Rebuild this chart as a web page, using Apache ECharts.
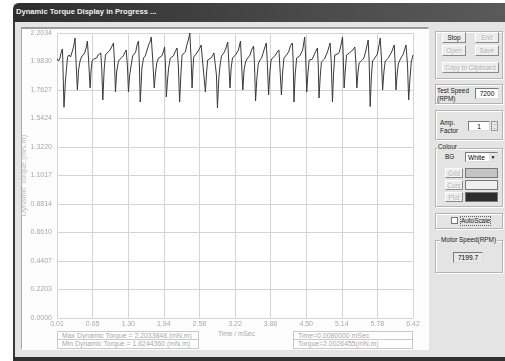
<!DOCTYPE html>
<html><head><meta charset="utf-8">
<script src="https://cdn.jsdelivr.net/npm/echarts@6/dist/echarts.min.js"></script>
<style>
html,body{margin:0;padding:0;width:505px;height:361px;overflow:hidden;background:#fff;font-family:"Liberation Sans",Arial,sans-serif;}
.a{position:absolute;box-sizing:border-box;}
.btn{position:absolute;box-sizing:border-box;background:#ececec;border:1px solid #fff;border-right-color:#8a8a8a;border-bottom-color:#8a8a8a;font-size:6.3px;color:#b0b0b0;text-align:center;line-height:9px;text-shadow:1px 1px 0 #fff;white-space:nowrap;overflow:hidden;}
.grp{position:absolute;box-sizing:border-box;border:1px solid #b4b4b4;box-shadow:1px 1px 0 #fff inset,1px 1px 0 #fff;}
.lbl{position:absolute;font-size:6.4px;color:#222;white-space:nowrap;line-height:7.5px;}
.edit{position:absolute;box-sizing:border-box;background:#fff;border:1px solid #7a7a7a;border-right-color:#ddd;border-bottom-color:#ddd;font-size:6.6px;color:#000;text-align:center;line-height:9px;white-space:nowrap;}
.box{position:absolute;box-sizing:border-box;border:1px solid #c8c8c8;font-size:6.9px;color:#a8a8a8;padding-left:4px;line-height:7px;white-space:nowrap;background:#fff;overflow:hidden;}
</style></head><body>
<div class="a" style="left:13px;top:3px;width:492px;height:358px;background:#e4e4e4;"></div>
<div class="a" style="left:13px;top:3px;width:492px;height:19px;background:linear-gradient(to right,#2e2e2e,#4a4a4a 60%,#5a5a5a);border-radius:6px 0 0 0;"></div>
<div class="a" style="left:16px;top:7px;font-size:7.6px;font-weight:bold;color:#f0f0f0;white-space:nowrap;">Dynamic Torque Display in Progress ...</div>
<div class="a" style="left:13px;top:22px;width:2px;height:339px;background:#3a3a3a;"></div>
<div class="a" style="left:13px;top:357px;width:492px;height:4px;background:#303030;"></div>
<div class="a" style="left:21px;top:27px;width:408px;height:323px;background:#fdfdfd;border-top:2px solid #9c9c9c;border-left:1px solid #a8a8a8;border-right:1px solid #fff;border-bottom:1px solid #fff;"></div>
<div class="box" style="left:57px;top:331px;width:142px;height:9px;">Max Dynamic Torque = 2.2033848 (mN.m)</div>
<div class="box" style="left:57px;top:339px;width:142px;height:10px;">Min Dynamic Torque = 1.6244360 (mN.m)</div>
<div class="a" style="left:218px;top:330px;font-size:6.6px;color:#a8a8a8;white-space:nowrap;">Time / mSec</div>
<div class="box" style="left:293px;top:331px;width:120px;height:9px;">Time=0.0080000 mSec</div>
<div class="box" style="left:293px;top:339px;width:120px;height:10px;">Torque=2.0026455(mN.m)</div>

<div class="grp" style="left:435px;top:31px;width:68px;height:48px;"></div>
<div class="btn" style="left:442px;top:32px;width:24px;height:11px;color:#111;text-shadow:none;">Stop</div>
<div class="btn" style="left:475px;top:32px;width:24px;height:11px;">End</div>
<div class="btn" style="left:442px;top:45px;width:24px;height:11px;">Open</div>
<div class="btn" style="left:475px;top:45px;width:24px;height:11px;">Save</div>
<div class="btn" style="left:442px;top:62px;width:57px;height:11px;">Copy to Clipboard</div>

<div class="grp" style="left:435px;top:84px;width:68px;height:20px;"></div>
<div class="lbl" style="left:437px;top:87px;">Test Speed<br>(RPM)</div>
<div class="edit" style="left:475px;top:88px;width:24px;height:11px;">7200</div>

<div class="grp" style="left:435px;top:110px;width:68px;height:30px;"></div>
<div class="lbl" style="left:440px;top:119px;">Amp.<br>Factor</div>
<div class="edit" style="left:468px;top:121px;width:22px;height:10px;">1</div>
<div class="a" style="left:491px;top:121px;width:7px;height:10px;border:1px solid #999;background:#e8e8e8;font-size:5px;line-height:4px;text-align:center;color:#333;">-<br>-</div>

<div class="grp" style="left:435px;top:148px;width:68px;height:59px;"></div>
<div class="lbl" style="left:437px;top:143px;background:#e4e4e4;padding:0 1px;">Colour</div>
<div class="lbl" style="left:445px;top:153px;">BG</div>
<div class="edit" style="left:465px;top:152px;width:33px;height:10px;text-align:left;padding-left:2px;">White<span style="position:absolute;right:0;top:0;width:8px;height:8px;background:#e4e4e4;font-size:5px;text-align:center;">&#9660;</span></div>
<div class="btn" style="left:445px;top:168px;width:18px;height:10px;">Grid</div>
<div class="btn" style="left:445px;top:180px;width:18px;height:10px;">Curs</div>
<div class="btn" style="left:445px;top:192px;width:18px;height:10px;">Plot</div>
<div class="a" style="left:465px;top:168px;width:33px;height:10px;background:#c4c4c4;border:1px solid #777;"></div>
<div class="a" style="left:465px;top:180px;width:33px;height:10px;background:#efefef;border:1px solid #777;"></div>
<div class="a" style="left:465px;top:192px;width:33px;height:10px;background:#2e2e2e;border:1px solid #777;"></div>

<div class="grp" style="left:435px;top:213px;width:68px;height:16px;"></div>
<div class="a" style="left:451px;top:217px;width:7px;height:7px;background:#fff;border:1px solid #777;"></div>
<div class="lbl" style="left:461px;top:217px;outline:1px dotted #666;">AutoScale</div>

<div class="grp" style="left:435px;top:240px;width:68px;height:33px;"></div>
<div class="lbl" style="left:440px;top:236px;background:#e4e4e4;padding:0 1px;">Motor Speed(RPM)</div>
<div class="edit" style="left:453px;top:252px;width:30px;height:11px;background:#e8e8e8;">7199.7</div>

<div id="chart" class="a" style="left:0;top:0;width:505px;height:361px;"></div>
<script>
// x tick labels (ms) and axis extents
var xTickLabels = ['0.01','0.65','1.30','1.94','2.58','3.22','3.86','4.50','5.14','5.78','6.42'];
var yMax = 2.2033848;
var yStep = 0.22033848;
// sampled time (ms)
var timeMs = [
0.010,0.037,0.064,0.091,0.109,
0.136,0.163,0.200,0.227,0.254,0.281,0.308,0.335,0.353,
0.377,0.398,0.425,0.452,0.479,0.507,0.534,0.557,0.579,
0.606,0.624,0.642,0.669,0.696,0.723,0.750,0.777,0.799,0.817,
0.835,0.859,0.882,0.913,0.940,0.967,0.994,1.027,1.045,
1.063,1.084,1.117,1.148,1.175,1.202,1.229,1.256,1.278,
1.297,1.319,1.346,1.373,1.400,1.427,1.455,1.478,1.494,
1.509,1.539,1.568,1.599,1.626,1.659,1.684,1.707,1.734,
1.761,1.785,1.810,1.839,1.870,1.897,1.924,1.947,1.964,
1.978,2.000,2.020,2.050,2.077,2.105,2.135,2.171,2.195,
2.218,2.240,2.262,2.291,2.321,2.348,2.375,2.402,2.424,
2.442,2.457,2.471,2.502,2.529,2.556,2.583,2.605,2.646,
2.682,2.704,2.724,2.755,2.782,2.809,2.836,2.863,2.881,
2.899,2.922,2.944,2.971,2.998,3.025,3.052,3.085,3.103,
3.125,3.146,3.170,3.197,3.224,3.251,3.278,3.314,3.332,
3.356,3.378,3.405,3.432,3.459,3.486,3.513,3.549,3.567,
3.585,3.609,3.634,3.663,3.694,3.721,3.748,3.778,3.796,
3.820,3.843,3.865,3.892,3.919,3.946,3.973,4.006,4.024,
4.051,4.073,4.096,4.127,4.154,4.181,4.212,4.248,4.262,
4.277,4.298,4.325,4.353,4.380,4.407,4.434,4.470,4.488,
4.506,4.530,4.551,4.578,4.605,4.632,4.663,4.699,4.714,
4.728,4.750,4.771,4.799,4.826,4.849,4.880,4.927,4.948,
4.970,4.988,5.012,5.039,5.066,5.093,5.120,5.151,5.165,
5.180,5.201,5.223,5.246,5.273,5.301,5.337,5.373,5.391,
5.409,5.430,5.450,5.481,5.508,5.535,5.566,5.613,5.631,
5.649,5.671,5.692,5.721,5.752,5.779,5.806,5.830,5.851,
5.873,5.896,5.920,5.951,5.978,6.005,6.035,6.082,6.099,
6.113,6.135,6.155,6.185,6.212,6.239,6.267,6.294,6.321,
6.342,6.366,6.389,6.420
];
// dynamic torque (mN.m)
var torque = [
2.0026,1.9869,2.0101,2.0642,2.0797,
1.6290,1.8400,2.0178,2.0333,2.0178,2.0565,2.0952,2.1647,1.9792,
1.7627,1.9173,1.9869,2.0178,2.0333,2.0488,2.0874,2.1415,1.9946,
1.7782,1.9173,1.9869,2.0024,2.0178,2.0101,2.0333,2.0410,2.0488,1.9173,
1.6854,1.9173,2.0333,2.0488,2.0565,2.0720,2.0874,2.1261,1.9792,
1.7472,1.9019,1.9869,2.0024,2.0101,2.0256,2.0488,2.0720,1.9483,
1.7472,1.8787,1.9560,2.0256,2.0410,2.0565,2.1184,2.1415,1.9483,
1.6699,1.9328,2.0101,2.0256,2.0410,2.1106,2.1338,2.1725,1.9946,
1.7782,1.9019,1.9792,2.0101,2.0178,2.0256,2.0565,2.0952,1.9483,
1.7086,1.8400,1.9328,2.0101,2.0178,2.0256,2.0565,2.0874,1.9483,
1.6699,1.8787,2.0333,2.0410,2.0565,2.1106,2.1493,2.2033848,2.0101,
1.7782,1.9173,2.0178,2.0333,2.0488,2.0565,2.0874,2.1106,1.9173,
1.7472,1.9019,1.9946,1.9946,2.0101,2.0256,2.0488,2.0642,1.8787,
1.6244360,1.8400,1.9483,2.0256,2.0410,2.0565,2.0874,2.1338,1.9792,
1.7782,1.9328,2.0101,2.0178,2.0333,2.0410,2.0720,2.1415,1.9792,
1.7627,1.9173,1.9792,2.0024,2.0101,2.0333,2.0720,2.1029,1.9483,
1.6777,1.8555,1.9637,1.9946,2.0101,2.0488,2.0874,2.1261,1.9792,
1.7241,1.9019,1.9946,2.0101,2.0178,2.0333,2.0565,2.0720,1.9328,
1.7241,1.9019,2.0101,2.0256,2.0333,2.0565,2.1029,2.1261,1.9946,
1.6699,1.8787,2.0101,2.0178,2.0256,2.0410,2.0720,2.1725,2.0101,
1.7472,1.9019,1.9946,1.9920,2.0000,2.0101,2.0565,2.0874,1.9483,
1.7009,1.8710,1.9792,1.9946,2.0024,2.0178,2.0565,2.1261,1.9792,
1.6699,1.8787,2.0333,2.0290,2.0410,2.0565,2.1029,2.1725,2.0101,
1.7782,1.9173,2.0333,2.0300,2.0488,2.0565,2.0720,2.0952,1.9792,
1.7782,1.9019,1.9715,1.9869,1.9946,2.0101,2.0565,2.1493,1.9792,
1.6350,1.8710,1.9869,2.0024,2.0178,2.0410,2.1029,2.1647,2.0101,
1.7627,1.9019,1.9869,1.9946,2.0101,2.0333,2.0565,2.1106,1.9637,
1.7627,1.8864,1.9637,1.9946,2.0178,2.0333,2.0720,2.1106,1.9560,
1.6854,1.8555,1.9792,2.0333
];
var pts = timeMs.map(function(t,i){return [t, torque[i]];});
var chart = echarts.init(document.getElementById('chart'), null, {renderer:'canvas'});
var lab = {color:'#a8a8a8', fontSize:7, fontFamily:'Liberation Sans'};
chart.setOption({
  animation:false,
  backgroundColor:'transparent',
  grid:{left:57, top:33, width:356, height:285, show:true, backgroundColor:'#ffffff', borderWidth:0},
  xAxis:[
    {type:'value', min:0.01, max:6.42, show:false},
    {type:'value', min:0, max:10, interval:1, position:'bottom',
     axisLine:{show:false}, axisTick:{show:false},
     splitLine:{show:true, lineStyle:{color:'#d4d4d4', width:1}},
     axisLabel:Object.assign({margin:3, formatter:function(v){return xTickLabels[Math.round(v)];}}, lab)}
  ],
  yAxis:[
    {type:'value', min:0, max:yMax, interval:yStep,
     axisLine:{show:false}, axisTick:{show:false},
     splitLine:{show:true, lineStyle:{color:'#d4d4d4', width:1}},
     axisLabel:Object.assign({margin:5, formatter:function(v){return v.toFixed(4);}}, lab),
     name:'Dynamic Torque (mN.m)', nameLocation:'middle', nameRotate:90, nameGap:29, nameMoveOverlap:false,
     nameTextStyle:{color:'#bcbcbc', fontSize:7.5, fontFamily:'Liberation Sans'}}
  ],
  series:[{type:'line', xAxisIndex:0, yAxisIndex:0, data:pts, showSymbol:false, symbol:'none',
    lineStyle:{color:'#3a3a3a', width:1}, silent:true}]
});
</script>
</body></html>
